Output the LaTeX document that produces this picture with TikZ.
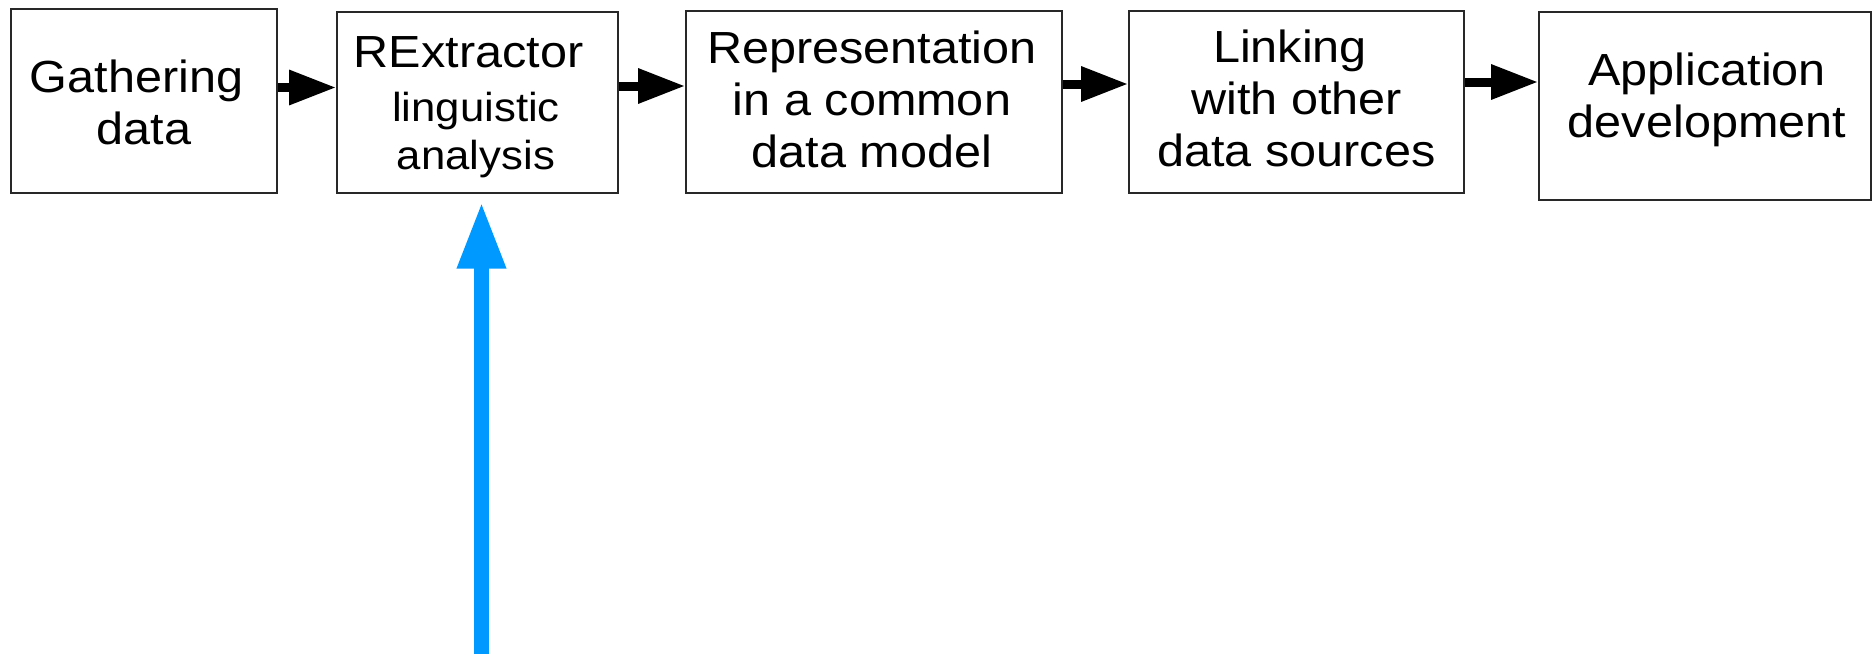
\documentclass[tikz,border=0pt]{standalone}
\usepackage{fontspec}
\setmainfont{Liberation Sans}[FakeStretch=1.08]
\usetikzlibrary{arrows.meta,calc}
\definecolor{boxline}{RGB}{40,40,40}
\definecolor{inblue}{RGB}{0,153,255}
\newcommand{\smalltxt}{\fontsize{40.5pt}{48pt}\selectfont}
\tikzset{
  procbox/.style={draw=boxline, line width=1.6pt, rectangle, fill=none, inner sep=0pt},
  boxlabel/.style={align=center, inner sep=0pt, font=\fontsize{45pt}{52pt}\selectfont},
  flow/.style={line width=9pt, -{Triangle[length=47pt,width=33pt]}},
  inflow/.style={line width=15pt, inblue, -{Triangle[length=67pt,width=45pt]}}
}
\begin{document}
\begin{tikzpicture}[x=1pt,y=-1pt]
\path[use as bounding box] (0,0) rectangle (1873,654);
% boxes
\node[procbox, minimum width=266pt, minimum height=184pt] (g) at (144,101) {};
\node[procbox, minimum width=281pt, minimum height=181pt] (r) at (477.5,102.5) {};
\node[procbox, minimum width=376pt, minimum height=182pt] (p) at (874,102) {};
\node[procbox, minimum width=335pt, minimum height=182pt] (l) at (1296.5,102) {};
\node[procbox, minimum width=332pt, minimum height=188pt] (a) at (1705,106) {};
% labels
\node[boxlabel] (gtxt) at ($(g.center)+(0,1)$) {Gathering\kern15pt\\data};
\node[boxlabel] (rtxt) at ($(r.center)+(-1.5,4.5)$) {RExtractor\kern15pt\\[2pt]{\smalltxt linguistic}\\[-4pt]{\smalltxt analysis}};
\node[boxlabel] (ptxt) at ($(p.center)+(-2,-3)$) {Representation\\in a common\\data model};
\node[boxlabel] (ltxt) at ($(l.center)+(0,-4)$) {Linking\kern13pt\\with other\\data sources};
\node[boxlabel] (atxt) at ($(a.center)+(2,-6)$) {Application\\development};
% flow arrows
\draw[flow] ([yshift=13.5pt]g.east) -- ([yshift=15pt]r.west);
\draw[flow] ([yshift=16.5pt]r.east) -- ([yshift=16pt]p.west);
\draw[flow] ([yshift=18pt]p.east) -- ([yshift=18pt]l.west);
\draw[flow] ([yshift=20pt]l.east) -- ([yshift=24pt]a.west);
% input arrow
\coordinate (src) at (481.5,654);
\draw[inflow, shorten >=7.7pt] (src) -- (src |- r.south);
\end{tikzpicture}
\end{document}
